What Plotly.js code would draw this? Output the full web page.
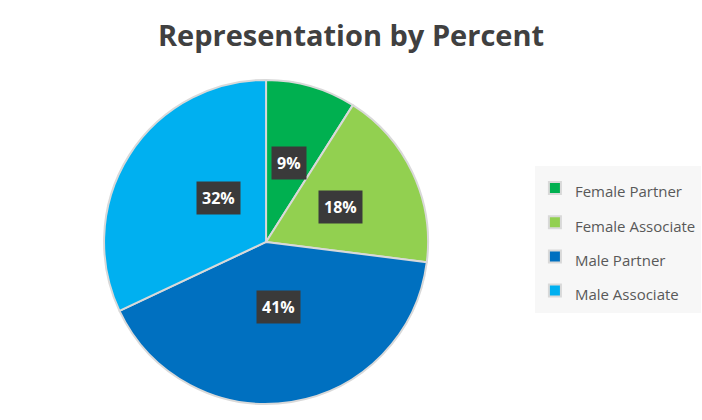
<!DOCTYPE html>
<html>
<head>
<meta charset="utf-8">
<script src="https://cdn.plot.ly/plotly-3.0.1.min.js"></script>
<style>
  html, body { margin: 0; padding: 0; background: #ffffff; }
  #chart { width: 702px; height: 420px; }
</style>
</head>
<body>
<div id="chart"></div>
<script>
'use strict';

// Slice data
const groups = ['Female Partner', 'Female Associate', 'Male Partner', 'Male Associate'];
const percents = [9, 18, 41, 32];
const sliceColors = ['#00b050', '#92d050', '#0070c0', '#00b0f0'];

const W = 702, H = 420;
const cx = 0.379, cy = 0.424;          // pie centre in paper units
const R = 162;                           // radius in px
const labelRadius = 0.51;                // labels sit half way out

const domain = {
	x: [cx - R / W, cx + R / W],
	y: [cy - R / H, cy + R / H]
};

// label boxes placed at each slice's mid angle (clockwise from 12 o'clock)
const total = percents.reduce(function(a, b) { return a + b; }, 0);
let run = 0;
const annotations = percents.map(function(v) {
	const mid = (run + v / 2) / total * 2 * Math.PI;
	run += v;
	return {
		x: cx + labelRadius * R * Math.sin(mid) / W,
		y: cy + labelRadius * R * Math.cos(mid) / H,
		xref: 'paper', yref: 'paper',
		text: '<b>' + v + '%</b>',
		showarrow: false,
		bgcolor: '#3a3a3a',
		borderpad: 5,
		font: { family: 'Open Sans, sans-serif', size: 16, color: '#ffffff' }
	};
});

// legend font is large only to space the rows out; the text itself is drawn at 15px
const legendNames = groups.map(function(g) {
	return '<span style="font-size:15px">' + g + '</span>';
});

const trace = {
	type: 'pie',
	labels: legendNames,
	values: percents,
	sort: false,
	direction: 'clockwise',
	rotation: 0,
	textinfo: 'none',
	hoverinfo: 'label+percent',
	domain: domain,
	marker: {
		colors: sliceColors,
		line: { color: '#d9d9d9', width: 2 }
	}
};

const layout = {
	width: W,
	height: H,
	margin: { l: 0, r: 0, t: 0, b: 0, autoexpand: false },
	paper_bgcolor: '#ffffff',
	title: {
		text: '<b>Representation by Percent</b>',
		x: 0.5, xanchor: 'center',
		y: 0.915, yanchor: 'middle',
		font: { family: 'Open Sans, sans-serif', size: 29, color: '#404040' }
	},
	showlegend: true,
	legend: {
		x: 0.762, xanchor: 'left',
		y: 0.43, yanchor: 'middle',
		bgcolor: '#f7f7f7',
		font: { family: 'Open Sans, sans-serif', size: 24, color: '#595959' },
		itemwidth: 30
	},
	annotations: annotations
};

Plotly.newPlot('chart', [trace], layout, { displayModeBar: false, staticPlot: true });
</script>
</body>
</html>
